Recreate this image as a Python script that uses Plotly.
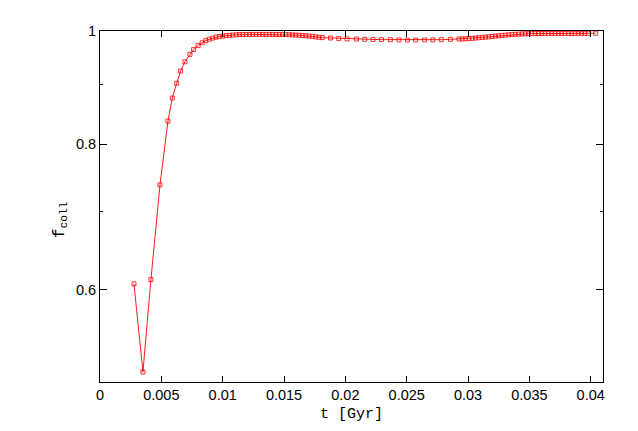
import plotly.graph_objects as go

# time [Gyr] and collapsed fraction
t_gyr = [0.00277, 0.00350, 0.00415, 0.00489, 0.00554, 0.00589, 0.00625, 0.00657,
         0.00692, 0.00733, 0.00763, 0.00800, 0.00833, 0.00862, 0.00890, 0.00918,
         0.00945, 0.00972, 0.01000, 0.01027, 0.01055, 0.01082, 0.01110, 0.01137,
         0.01164, 0.01191, 0.01218, 0.01245, 0.01272, 0.01299, 0.01326, 0.01353,
         0.01380, 0.01407, 0.01434, 0.01461, 0.01488, 0.01515, 0.01542, 0.01569,
         0.01596, 0.01623, 0.01650, 0.01677, 0.01704, 0.01731, 0.01758, 0.01785,
         0.01812, 0.01879, 0.01946, 0.02014, 0.02090, 0.02158, 0.02226, 0.02294,
         0.02367, 0.02437, 0.02506, 0.02573, 0.02646, 0.02714, 0.02782, 0.02856,
         0.02926, 0.02953, 0.02980, 0.03007, 0.03034, 0.03061, 0.03088, 0.03115,
         0.03142, 0.03169, 0.03196, 0.03223, 0.03250, 0.03277, 0.03304, 0.03331,
         0.03358, 0.03385, 0.03412, 0.03439, 0.03466, 0.03493, 0.03520, 0.03547,
         0.03574, 0.03601, 0.03628, 0.03655, 0.03682, 0.03709, 0.03736, 0.03763,
         0.03790, 0.03817, 0.03844, 0.03871, 0.03898, 0.03925, 0.03952, 0.03979,
         0.04040]
f_coll = [0.607, 0.510, 0.612, 0.738, 0.837, 0.876, 0.902, 0.924,
          0.941, 0.955, 0.964, 0.972, 0.977, 0.981, 0.984, 0.986,
          0.988, 0.989, 0.990, 0.991, 0.9915, 0.992, 0.9925, 0.993,
          0.993, 0.9932, 0.9932, 0.9933, 0.9933, 0.9933, 0.9933, 0.9933,
          0.9933, 0.9932, 0.9932, 0.9931, 0.9930, 0.9929, 0.9927, 0.9924,
          0.9920, 0.9916, 0.9912, 0.9906, 0.9900, 0.9894, 0.9885, 0.9877,
          0.9870, 0.9863, 0.9851, 0.9845, 0.9842, 0.9838, 0.9835, 0.9832,
          0.9830, 0.9826, 0.9823, 0.9823, 0.9825, 0.9826, 0.9830, 0.9836,
          0.9843, 0.9845, 0.9848, 0.9852, 0.9857, 0.9862, 0.9868, 0.9874,
          0.9880, 0.9886, 0.9893, 0.9900, 0.9907, 0.9913, 0.9919, 0.9925,
          0.9930, 0.9935, 0.9939, 0.9942, 0.9945, 0.9947, 0.9949, 0.9950,
          0.9951, 0.9952, 0.9952, 0.9952, 0.9953, 0.9953, 0.9953, 0.9953,
          0.9953, 0.9953, 0.9953, 0.9954, 0.9954, 0.9954, 0.9954, 0.9954,
          0.9955]

x_ticks = [0, 0.005, 0.01, 0.015, 0.02, 0.025, 0.03, 0.035, 0.04]
x_labels = ["0", "0.005", "0.01", "0.015", "0.02", "0.025", "0.03", "0.035", "0.04"]
y_ticks = [0.6, 0.8, 1]
y_labels = ["0.6", "0.8", "1"]
y_minor = [0.7, 0.9]

fig = go.Figure(go.Scatter(
    x=t_gyr, y=f_coll, mode="lines+markers",
    line=dict(color="#ff0000", width=0.9),
    marker=dict(symbol="square-open", size=4, color="#ff0000", line=dict(width=0.8)),
    showlegend=False,
))

axis_common = dict(
    showline=True, linecolor="black", linewidth=1, mirror="allticks",
    ticks="inside", tickcolor="black", tickwidth=1, showgrid=False, zeroline=False,
    tickfont=dict(family="Liberation Sans, Arial", size=14.5, color="black"),
)

fig.update_xaxes(range=[0, 0.041], tickmode="array", tickvals=x_ticks, ticktext=x_labels,
                 ticklen=6, **axis_common)
fig.update_yaxes(type="log", range=[-0.30103, 0], tickmode="array", tickvals=y_ticks,
                 ticktext=y_labels, ticklen=7,
                 minor=dict(tickmode="array", tickvals=y_minor, ticks="inside", ticklen=3,
                            tickcolor="black", showgrid=False),
                 **axis_common)

# axis titles placed as annotations (paper coords: plot area is 503 x 351 px)
fig.add_annotation(text="t [Gyr]", x=0.5, xref="paper", y=-(414 - 382) / 351, yref="paper",
                   xanchor="center", yanchor="middle", showarrow=False,
                   font=dict(family="Liberation Mono, Courier New", size=15, color="black"))
fig.add_annotation(text="f<sub>coll</sub>", x=-(100 - 60) / 503, xref="paper",
                   y=(382 - 220) / 351, yref="paper", xanchor="center", yanchor="middle",
                   textangle=-90, showarrow=False,
                   font=dict(family="Liberation Mono, Courier New", size=16, color="black"))

# page body has an 8px margin, so the figure is shrunk and shifted to match
fig.update_layout(
    width=630, height=423,
    margin=dict(l=92, r=35, t=23, b=49),
    plot_bgcolor="white", paper_bgcolor="white",
)

fig.write_html("out.html")
